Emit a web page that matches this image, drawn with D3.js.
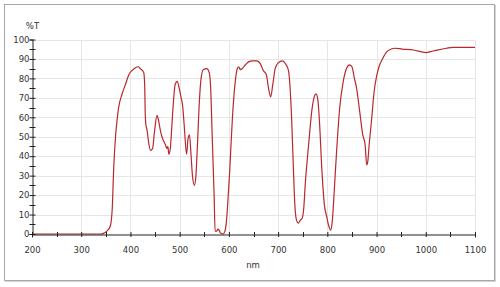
<!DOCTYPE html>
<html>
<head>
<meta charset="utf-8">
<script src="https://cdn.jsdelivr.net/npm/d3@7"></script>
<style>
  body { margin: 0; background: #fff; }
  svg text { font-family: "DejaVu Sans", Verdana, sans-serif; fill: #333; }
</style>
</head>
<body>
<svg id="chart" width="500" height="287"></svg>
<script>
// wavelength (nm) and transmittance (%T)
const wavelength = [
  200, 340, 345, 352, 359, 363, 366, 370, 373, 376, 383, 390, 397, 403, 410, 416,
  420, 427, 429, 430, 431, 434, 437, 441, 445, 449, 454, 457, 461, 464, 468, 471,
  474, 476, 478, 481, 484, 486, 491, 495, 499, 503, 506, 508, 510, 514, 517, 520,
  523, 526, 530, 533, 536, 540, 543.5, 548, 555, 560, 563, 566, 570, 572, 575, 578,
  580, 583, 588, 592, 595, 598, 602, 607, 612, 617, 620, 623.5, 627, 633.5, 640, 648,
  657, 664, 670, 676, 680.5, 685, 689, 694, 700, 709, 715, 721, 724, 727.5, 731, 734,
  737.5, 741, 745, 748.7, 752, 755, 762, 769, 774, 777, 780.7, 784, 788.7, 794, 798.7, 802,
  806.7, 810, 814, 818.7, 825, 832, 838.7, 845, 850, 855, 858.7, 865, 872, 876.7, 880, 882,
  885, 890, 895, 900, 905, 912, 922, 929, 937, 952, 975, 1000, 1015, 1042, 1055, 1100
];
const transmittance = [
  0, 0, 0.3, 1.5, 4, 13, 34, 51, 59, 65, 72, 77, 82, 84, 85.5, 86,
  85, 83, 76, 62, 57, 53, 47, 43, 44, 53, 61, 58.5, 53, 50, 47.5, 46,
  44, 45, 41, 44, 55, 63, 77, 78.5, 75, 70, 66, 60, 53, 41, 49, 51,
  41, 30, 25, 30, 45, 68, 80, 84.5, 85, 83, 75, 51, 20, 1.5, 1.5, 2.5,
  2, 0.5, 0, 1.5, 6.5, 17, 34, 59, 76, 85, 86, 84.5, 85, 87, 88.5, 89,
  89, 87.5, 84, 82, 75, 70.5, 76.5, 85, 88, 89, 87.5, 84, 76.5, 59, 34, 15,
  7, 5.6, 7, 8, 13, 25, 46, 64.5, 71, 72, 69, 58, 34, 15, 9, 5,
  2, 6.5, 22, 42, 64.5, 78, 85, 87, 86, 80, 76, 64.5, 51, 46, 35.5, 37,
  46, 59, 73, 81, 86, 90, 94, 95, 95.5, 95.1, 94.6, 93.3, 94.1, 95.5, 96, 96
];

const xMajor = [200, 300, 400, 500, 600, 700, 800, 900, 1000, 1100];
const xMinor = [250, 350, 450, 550, 650, 750, 850, 950, 1050];
const yMajor = [0, 10, 20, 30, 40, 50, 60, 70, 80, 90, 100];
const yMinor = [5, 15, 25, 35, 45, 55, 65, 75, 85, 95];

const svg = d3.select("#chart");

// outer panel
svg.append("rect")
  .attr("x", 5.5).attr("y", 5.5)
  .attr("width", 490).attr("height", 276)
  .attr("fill", "none")
  .attr("stroke", "#d4d4d4");
svg.append("rect")
  .attr("x", 4.5).attr("y", 4.5)
  .attr("width", 490).attr("height", 276)
  .attr("fill", "#fff")
  .attr("stroke", "#a8a8a8");

const x = d3.scaleLinear().domain([200, 1100]).range([32, 475]);
const y = d3.scaleLinear().domain([0, 100]).range([234, 39.5]);

// gridlines
const grid = svg.append("g").attr("class", "grid");
grid.selectAll("line.h")
  .data(yMajor.filter((d) => d > 0))
  .join("line")
  .attr("class", "h")
  .attr("x1", x(200)).attr("x2", x(1100))
  .attr("y1", (d) => Math.round(y(d)) + 0.5)
  .attr("y2", (d) => Math.round(y(d)) + 0.5)
  .attr("stroke", "#e6e6e6");
grid.selectAll("line.v")
  .data(xMajor.filter((d) => d > 200))
  .join("line")
  .attr("class", "v")
  .attr("x1", (d) => Math.round(x(d)) + 0.5)
  .attr("x2", (d) => Math.round(x(d)) + 0.5)
  .attr("y1", y(100)).attr("y2", y(0))
  .attr("stroke", "#e6e6e6");

// curve
const line = d3.line()
  .x((d) => x(d[0]))
  .y((d) => y(d[1]))
  .curve(d3.curveMonotoneX);

svg.append("path")
  .datum(wavelength.map((w, i) => [w, transmittance[i]]))
  .attr("d", line)
  .attr("fill", "none")
  .attr("stroke", "#b8282c")
  .attr("stroke-width", 1.2);

// axes
const xAxis = d3.axisBottom(x)
  .tickValues(xMajor)
  .tickFormat(d3.format("d"))
  .tickSizeOuter(0)
  .tickSize(3)
  .tickPadding(9);
const xAxisG = svg.append("g")
  .attr("transform", "translate(0,234.5)")
  .call(xAxis);
xAxisG.selectAll(".tick line").attr("y1", -2.5).attr("y2", 2.5);

const xMinorG = svg.append("g").attr("transform", "translate(0,234.5)");
xMinorG.selectAll("line")
  .data(xMinor)
  .join("line")
  .attr("x1", (d) => Math.round(x(d)) + 0.5)
  .attr("x2", (d) => Math.round(x(d)) + 0.5)
  .attr("y1", -2.5).attr("y2", 2.5)
  .attr("stroke", "#222");

const yAxis = d3.axisLeft(y)
  .tickValues(yMajor)
  .tickFormat(d3.format("d"))
  .tickSizeOuter(0)
  .tickSize(3)
  .tickPadding(0);
const yAxisG = svg.append("g")
  .attr("transform", "translate(32.5,0)")
  .call(yAxis);
yAxisG.selectAll(".tick line").attr("x1", -3).attr("x2", 3);

const yMinorG = svg.append("g").attr("transform", "translate(32.5,0)");
yMinorG.selectAll("line")
  .data(yMinor)
  .join("line")
  .attr("y1", (d) => Math.round(y(d)) + 0.5)
  .attr("y2", (d) => Math.round(y(d)) + 0.5)
  .attr("x1", -3).attr("x2", 3)
  .attr("stroke", "#222");

svg.selectAll(".domain").attr("stroke", "#222");
svg.selectAll(".tick line").attr("stroke", "#222");
svg.selectAll(".tick text")
  .attr("font-size", 8.5)
  .attr("font-family", "DejaVu Sans, Verdana, sans-serif")
  .attr("fill", "#333");

// axis titles
svg.append("text")
  .attr("x", 32.5).attr("y", 28.5)
  .attr("text-anchor", "middle")
  .attr("font-size", 8.5)
  .text("%T");

svg.append("text")
  .attr("x", 253).attr("y", 267.5)
  .attr("text-anchor", "middle")
  .attr("font-size", 8.5)
  .text("nm");
</script>
</body>
</html>
